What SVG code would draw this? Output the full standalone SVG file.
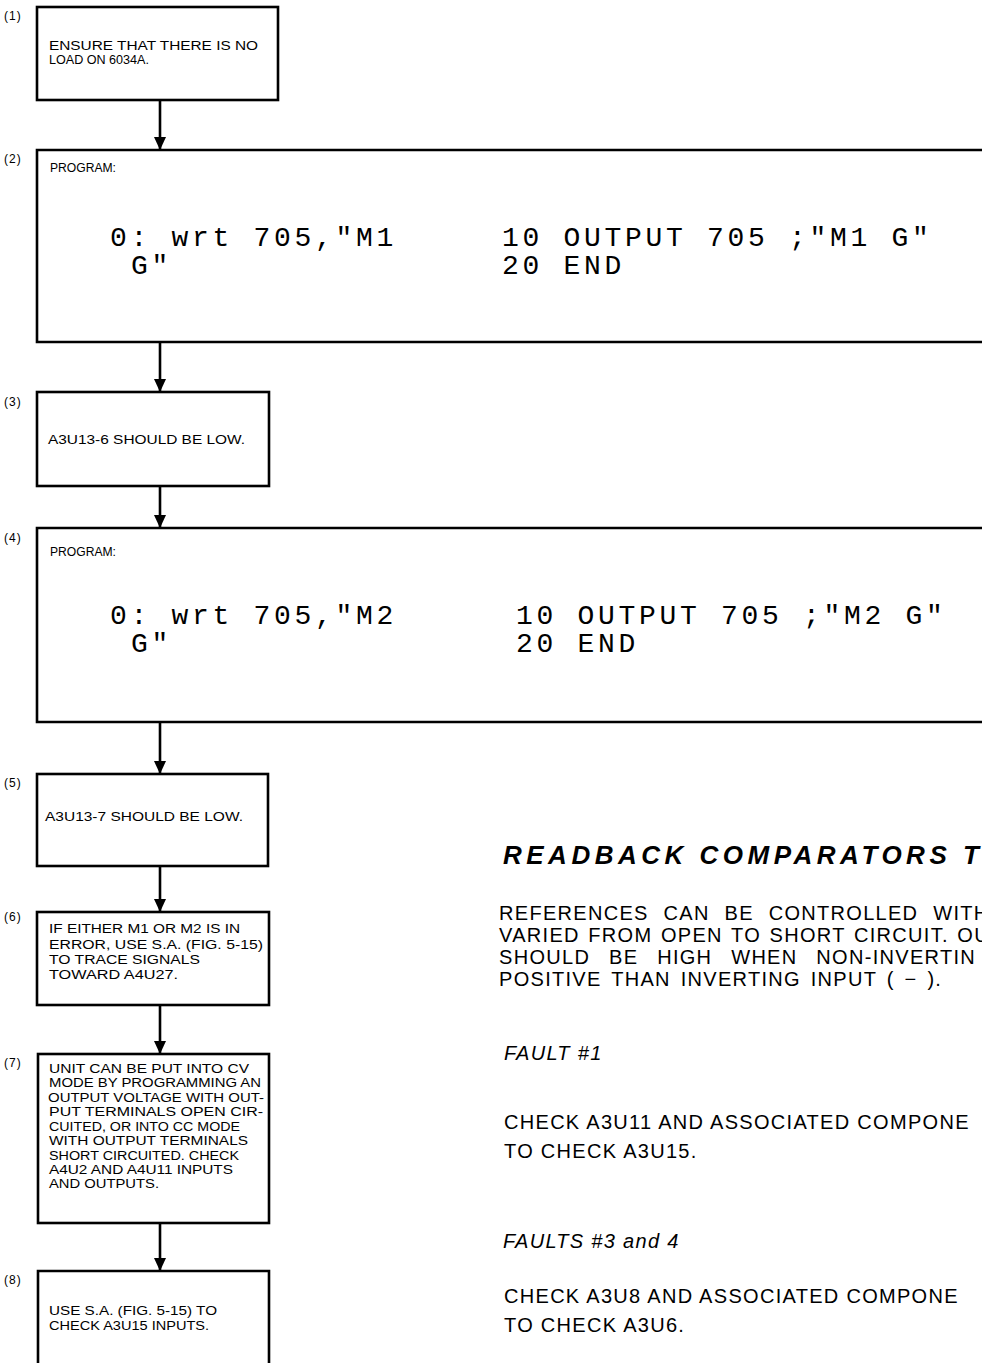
<svg xmlns="http://www.w3.org/2000/svg" width="982" height="1363" viewBox="0 0 982 1363">
<defs>
<marker id="arr" markerUnits="userSpaceOnUse" viewBox="0 0 13 12" markerWidth="13" markerHeight="12" refX="13" refY="6" orient="auto">
<path d="M0,0 L13,6 L0,12 z" fill="#000"/>
</marker>
<style>
.box{fill:#fff;stroke:#000;stroke-width:2.6}
.open{fill:none;stroke:#000;stroke-width:2.6}
.conn{stroke:#000;stroke-width:2.6;fill:none}
.lbl{font-family:"Liberation Sans",Arial,sans-serif;font-size:12px;letter-spacing:1px;fill:#000}
.t{font-family:"Liberation Sans",Arial,sans-serif;font-size:13.4px;fill:#000}
.code{font-family:"Liberation Mono","DejaVu Sans Mono",monospace;font-size:28px;letter-spacing:3.7px;fill:#000}
.h{font-family:"Liberation Sans",Arial,sans-serif;font-size:26px;font-weight:bold;font-style:italic;letter-spacing:4.5px;fill:#000}
.b{font-family:"Liberation Sans",Arial,sans-serif;font-size:20px;letter-spacing:1.3px;fill:#000}
.i{font-family:"Liberation Sans",Arial,sans-serif;font-size:20px;letter-spacing:1.3px;font-style:italic;fill:#000}
</style>
</defs>
<rect x="0" y="0" width="982" height="1363" fill="#fff"/>

<g id="connectors">
<line class="conn" x1="160" y1="100" x2="160" y2="150" marker-end="url(#arr)"/>
<line class="conn" x1="160" y1="342" x2="160" y2="392" marker-end="url(#arr)"/>
<line class="conn" x1="160" y1="486" x2="160" y2="528" marker-end="url(#arr)"/>
<line class="conn" x1="160" y1="722" x2="160" y2="774" marker-end="url(#arr)"/>
<line class="conn" x1="160" y1="866" x2="160" y2="912" marker-end="url(#arr)"/>
<line class="conn" x1="160" y1="1005" x2="160" y2="1054" marker-end="url(#arr)"/>
<line class="conn" x1="160" y1="1223" x2="160" y2="1271" marker-end="url(#arr)"/>
</g>

<g id="step1">
<rect class="box" x="37" y="7" width="241" height="93"/>
<text class="lbl" x="4" y="20">(1)</text>
<text class="t" x="49" y="50" textLength="209" lengthAdjust="spacingAndGlyphs">ENSURE THAT THERE IS NO</text>
<text class="t" x="49" y="64" textLength="100" lengthAdjust="spacingAndGlyphs">LOAD ON 6034A.</text>
</g>

<g id="step2">
<path class="open" d="M990,150 H37 V342 H990"/>
<text class="lbl" x="4" y="163">(2)</text>
<text class="t" x="50" y="172" textLength="66" lengthAdjust="spacingAndGlyphs">PROGRAM:</text>
<text class="code" x="110" y="246">0: wrt 705,"M1</text>
<text class="code" x="131" y="274">G"</text>
<text class="code" x="502" y="246">10 OUTPUT 705 ;"M1 G"</text>
<text class="code" x="502" y="274">20 END</text>
</g>

<g id="step3">
<rect class="box" x="37" y="392" width="232" height="94"/>
<text class="lbl" x="4" y="406">(3)</text>
<text class="t" x="48" y="444" textLength="197" lengthAdjust="spacingAndGlyphs">A3U13-6  SHOULD BE LOW.</text>
</g>

<g id="step4">
<path class="open" d="M990,528 H37 V722 H990"/>
<text class="lbl" x="4" y="542">(4)</text>
<text class="t" x="50" y="556" textLength="66" lengthAdjust="spacingAndGlyphs">PROGRAM:</text>
<text class="code" x="110" y="624">0: wrt 705,"M2</text>
<text class="code" x="131" y="652">G"</text>
<text class="code" x="516" y="624">10 OUTPUT 705 ;"M2 G"</text>
<text class="code" x="516" y="652">20 END</text>
</g>

<g id="step5">
<rect class="box" x="37" y="774" width="231" height="92"/>
<text class="lbl" x="4" y="787">(5)</text>
<text class="t" x="45" y="821" textLength="198" lengthAdjust="spacingAndGlyphs">A3U13-7  SHOULD BE LOW.</text>
</g>

<g id="step6">
<rect class="box" x="37" y="912" width="232" height="93"/>
<text class="lbl" x="4" y="921">(6)</text>
<text class="t" x="49" y="933" textLength="191" lengthAdjust="spacingAndGlyphs">IF EITHER M1 OR M2 IS IN</text>
<text class="t" x="49" y="949" textLength="214" lengthAdjust="spacingAndGlyphs">ERROR, USE S.A. (FIG. 5-15)</text>
<text class="t" x="49" y="964" textLength="151" lengthAdjust="spacingAndGlyphs">TO TRACE SIGNALS</text>
<text class="t" x="49" y="979" textLength="129" lengthAdjust="spacingAndGlyphs">TOWARD A4U27.</text>
</g>

<g id="step7">
<rect class="box" x="38" y="1054" width="231" height="169"/>
<text class="lbl" x="4" y="1067">(7)</text>
<text class="t" x="49" y="1073" textLength="200" lengthAdjust="spacingAndGlyphs">UNIT CAN BE PUT INTO CV</text>
<text class="t" x="49" y="1087" textLength="212" lengthAdjust="spacingAndGlyphs">MODE BY PROGRAMMING AN</text>
<text class="t" x="48" y="1102" textLength="216" lengthAdjust="spacingAndGlyphs">OUTPUT VOLTAGE WITH OUT-</text>
<text class="t" x="49" y="1116" textLength="214" lengthAdjust="spacingAndGlyphs">PUT TERMINALS OPEN CIR-</text>
<text class="t" x="49" y="1131" textLength="191" lengthAdjust="spacingAndGlyphs">CUITED, OR INTO CC MODE</text>
<text class="t" x="49" y="1145" textLength="199" lengthAdjust="spacingAndGlyphs">WITH OUTPUT TERMINALS</text>
<text class="t" x="49" y="1160" textLength="190" lengthAdjust="spacingAndGlyphs">SHORT CIRCUITED. CHECK</text>
<text class="t" x="49" y="1174" textLength="184" lengthAdjust="spacingAndGlyphs">A4U2 AND A4U11 INPUTS</text>
<text class="t" x="49" y="1188" textLength="110" lengthAdjust="spacingAndGlyphs">AND OUTPUTS.</text>
</g>

<g id="step8">
<path class="open" d="M38,1375 V1271 H269 V1375"/>
<text class="lbl" x="4" y="1284">(8)</text>
<text class="t" x="49" y="1315" textLength="168" lengthAdjust="spacingAndGlyphs">USE S.A. (FIG. 5-15) TO</text>
<text class="t" x="49" y="1330" textLength="160" lengthAdjust="spacingAndGlyphs">CHECK A3U15 INPUTS.</text>
</g>

<g id="notes">
<text class="h" x="503" y="864">READBACK COMPARATORS T</text>
<text class="b" x="499" y="920" word-spacing="8">REFERENCES CAN BE CONTROLLED WITH</text>
<text class="b" x="499" y="942" word-spacing="1.7">VARIED FROM OPEN TO SHORT CIRCUIT. OU</text>
<text class="b" x="499" y="964" word-spacing="12">SHOULD BE HIGH WHEN NON-INVERTIN</text>
<text class="b" x="499" y="986" word-spacing="3">POSITIVE THAN INVERTING INPUT ( − ).</text>
<text class="i" x="504" y="1060">FAULT #1</text>
<text class="b" x="504" y="1129">CHECK A3U11 AND ASSOCIATED COMPONE</text>
<text class="b" x="504" y="1158">TO CHECK A3U15.</text>
<text class="i" x="503" y="1248">FAULTS #3 and 4</text>
<text class="b" x="504" y="1303">CHECK A3U8 AND ASSOCIATED COMPONE</text>
<text class="b" x="504" y="1332">TO CHECK A3U6.</text>
</g>
</svg>
